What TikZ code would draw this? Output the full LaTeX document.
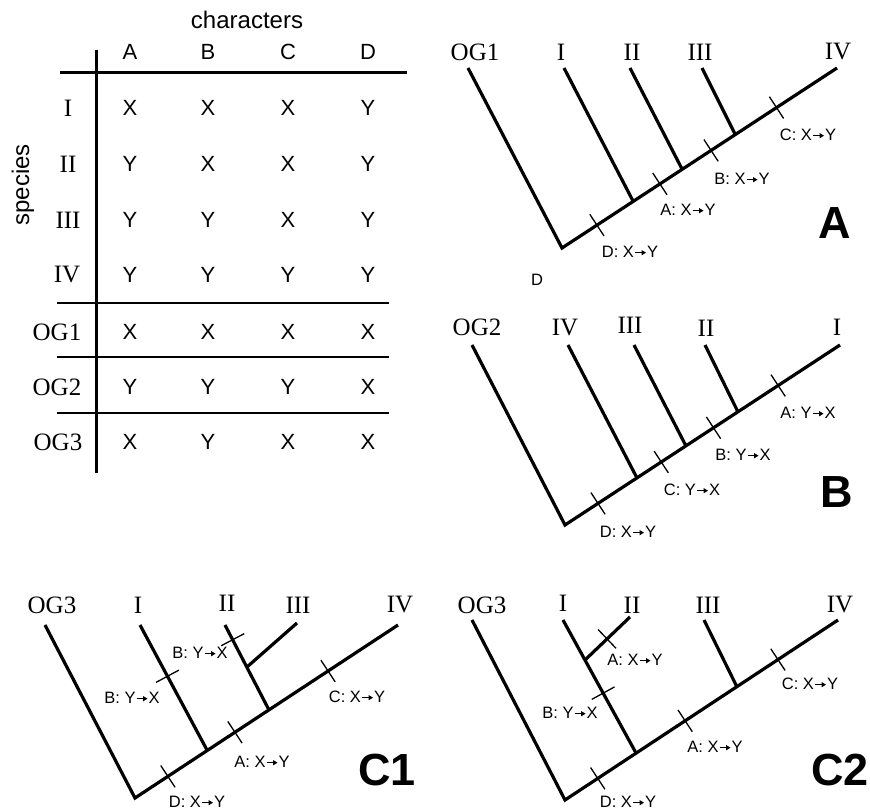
\documentclass[tikz,border=0pt]{standalone}
\usepackage{fontspec}
\setmainfont{Liberation Serif}
\setsansfont{Liberation Sans}
\usepackage{tikz}
\usetikzlibrary{calc,arrows.meta}
\newcommand{\goesto}{\kern0.5pt\tikz[baseline=-5pt]\draw[line width=1.1pt,-{Triangle[length=4.5pt,width=5pt]}] (0,0) -- (11pt,0);\kern0.5pt}

\begin{document}
\begin{tikzpicture}[x=1pt,y=-1pt,
  branch/.style={line width=3.2pt},
  tick/.style={line width=1.3pt},
  thickrule/.style={line width=3pt},
  thinrule/.style={line width=1.2pt},
  taxon/.style={font=\fontsize{25}{25}\selectfont},
  cell/.style={font=\sffamily\fontsize{22}{22}\selectfont},
  heading/.style={font=\sffamily\fontsize{24}{24}\selectfont},
  chg/.style={font=\sffamily\fontsize{16.5}{16.5}\selectfont},
  panel/.style={font=\sffamily\bfseries\fontsize{45}{45}\selectfont}]
\useasboundingbox (0,0) rectangle (870,810);

% character table
\node[heading] (chars) at (247,20) {characters};
\node[heading,rotate=90] (species) at (23,185) {species};
\foreach \c/\x in {A/130,B/208,C/288,D/368}
  \node[cell] (h\c) at (\x,52) {\c};
\foreach \n/\lab/\lx/\y/\a/\b/\c/\d in {
    1/I/68/108/X/X/X/Y, 2/II/68/164/Y/X/X/Y, 3/III/68/220/Y/Y/X/Y,
    4/IV/67/275/Y/Y/Y/Y, 5/OG1/57/332/X/X/X/X, 6/OG2/57/387/Y/Y/Y/X,
    7/OG3/58/442/X/Y/X/X} {
  \node[taxon] (r\n) at (\lx,\y) {\lab};
  \node[cell] (r\n a) at (130,\y) {\a};
  \node[cell] (r\n b) at (208,\y) {\b};
  \node[cell] (r\n c) at (288,\y) {\c};
  \node[cell] (r\n d) at (368,\y) {\d};
}
\draw[thickrule] (96,50) -- (96,473);
\draw[thickrule] (60,73) -- (407,73);
\foreach \y in {303,357,413}
  \draw[thinrule] (57,\y) -- (389,\y);

% tree A (outgroup OG1)
\coordinate (aR) at (562,248);
\coordinate (aT) at (837,68);
\coordinate (aO) at (468,68);
\coordinate (a1) at (633,201);
\coordinate (a1t) at (564,68);
\coordinate (a2) at (682,169);
\coordinate (a2t) at (630,68);
\coordinate (a3) at (735,134);
\coordinate (a3t) at (702,68);
\draw[branch] (aO) -- (aR) -- (aT);
\draw[branch] (a1) -- (a1t);
\draw[branch] (a2) -- (a2t);
\draw[branch] (a3) -- (a3t);
\foreach \t in {0.127,0.356,0.542,0.78}
  \draw[tick] ($(aR)!\t!(aT)!13pt!90:(aT)$) -- ($(aR)!\t!(aT)!13pt!-90:(aT)$);
\node[taxon] (aOG) at (475,52) {OG1};
\node[taxon] (aI) at (561,52) {I};
\node[taxon] (aII) at (632,52) {II};
\node[taxon] (aIII) at (700,52) {III};
\node[taxon] (aIV) at (838,52) {IV};
\node[chg] (aD) at (630,252) {D: X\goesto Y};
\node[chg] (aA) at (688,210) {A: X\goesto Y};
\node[chg] (aB) at (742,179) {B: X\goesto Y};
\node[chg] (aC) at (808,135) {C: X\goesto Y};
\node[chg] (stray) at (537,280) {D};
\node[panel] (pA) at (835,223) {A};

% tree B (outgroup OG2)
\coordinate (bR) at (565,525);
\coordinate (bT) at (840,345);
\coordinate (bO) at (472,345);
\coordinate (b1) at (637,478);
\coordinate (b1t) at (568,345);
\coordinate (b2) at (686,446);
\coordinate (b2t) at (634,345);
\coordinate (b3) at (738,412);
\coordinate (b3t) at (705,345);
\draw[branch] (bO) -- (bR) -- (bT);
\draw[branch] (b1) -- (b1t);
\draw[branch] (b2) -- (b2t);
\draw[branch] (b3) -- (b3t);
\foreach \t in {0.12,0.35,0.54,0.775}
  \draw[tick] ($(bR)!\t!(bT)!13pt!90:(bT)$) -- ($(bR)!\t!(bT)!13pt!-90:(bT)$);
\node[taxon] (bOG) at (477,327) {OG2};
\node[taxon] (bIV) at (565,328) {IV};
\node[taxon] (bIII) at (630,325) {III};
\node[taxon] (bII) at (706,328) {II};
\node[taxon] (bI) at (837,327) {I};
\node[chg] (bD) at (628,532) {D: X\goesto Y};
\node[chg] (bC) at (692,490) {C: Y\goesto X};
\node[chg] (bB) at (743,455) {B: Y\goesto X};
\node[chg] (bA) at (808,413) {A: Y\goesto X};
\node[panel] (pB) at (837,492) {B};

% tree C1 (outgroup OG3)
\coordinate (cR) at (135,798);
\coordinate (cT) at (398,625);
\coordinate (cO) at (45,625);
\coordinate (c1) at (207,750);
\coordinate (c1t) at (140,625);
\coordinate (c2) at (269,710);
\coordinate (c2t) at (225,625);
\coordinate (c2m) at (247,667);
\coordinate (c3t) at (297,623);
\draw[branch] (cO) -- (cR) -- (cT);
\draw[branch] (c1) -- (c1t);
\draw[branch] (c2) -- (c2t);
\draw[branch] (c2m) -- (c3t);
\foreach \t in {0.125,0.38,0.734}
  \draw[tick] ($(cR)!\t!(cT)!13pt!90:(cT)$) -- ($(cR)!\t!(cT)!13pt!-90:(cT)$);
\draw[tick] ($(c1)!0.59!(c1t)!13pt!90:(c1t)$) -- ($(c1)!0.59!(c1t)!13pt!-90:(c1t)$);
\draw[tick] ($(c2m)!0.65!(c2t)!13pt!90:(c2t)$) -- ($(c2m)!0.65!(c2t)!13pt!-90:(c2t)$);
\node[taxon] (cOG) at (52,605) {OG3};
\node[taxon] (cI) at (138,605) {I};
\node[taxon] (cII) at (227,603) {II};
\node[taxon] (cIII) at (298,605) {III};
\node[taxon] (cIV) at (400,605) {IV};
\node[chg] (cBu) at (200,653) {B: Y\goesto X};
\node[chg] (cBl) at (132,698) {B: Y\goesto X};
\node[chg] (cC) at (357,697) {C: X\goesto Y};
\node[chg] (cA) at (262,762) {A: X\goesto Y};
\node[chg] (cD) at (197,802) {D: X\goesto Y};
\node[panel] (pC1) at (387,770) {C1};

% tree C2 (outgroup OG3)
\coordinate (dR) at (565,800);
\coordinate (dT) at (838,620);
\coordinate (dO) at (472,620);
\coordinate (d1) at (636,753);
\coordinate (d1t) at (563,620);
\coordinate (d1m) at (585,660);
\coordinate (d2t) at (630,617);
\coordinate (d3) at (737,687);
\coordinate (d3t) at (704,620);
\draw[branch] (dO) -- (dR) -- (dT);
\draw[branch] (d1) -- (d1t);
\draw[branch] (d1m) -- (d2t);
\draw[branch] (d3) -- (d3t);
\foreach \t in {0.12,0.44,0.78}
  \draw[tick] ($(dR)!\t!(dT)!13pt!90:(dT)$) -- ($(dR)!\t!(dT)!13pt!-90:(dT)$);
\draw[tick] ($(d1)!0.45!(d1t)!13pt!90:(d1t)$) -- ($(d1)!0.45!(d1t)!13pt!-90:(d1t)$);
\draw[tick] ($(d1m)!0.49!(d2t)!13pt!90:(d2t)$) -- ($(d1m)!0.49!(d2t)!13pt!-90:(d2t)$);
\node[taxon] (dOG) at (482,605) {OG3};
\node[taxon] (dI) at (563,603) {I};
\node[taxon] (dII) at (632,605) {II};
\node[taxon] (dIII) at (708,605) {III};
\node[taxon] (dIV) at (840,605) {IV};
\node[chg] (dAu) at (635,660) {A: X\goesto Y};
\node[chg] (dB) at (570,713) {B: Y\goesto X};
\node[chg] (dAl) at (715,747) {A: X\goesto Y};
\node[chg] (dC) at (810,684) {C: X\goesto Y};
\node[chg] (dD) at (628,802) {D: X\goesto Y};
\node[panel] (pC2) at (840,770) {C2};
\end{tikzpicture}
\end{document}
